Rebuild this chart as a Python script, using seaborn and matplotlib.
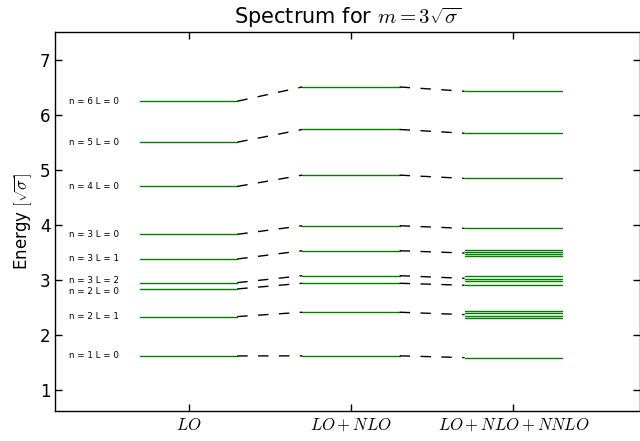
import numpy as np
import pandas as pd
import matplotlib
matplotlib.use("Agg")
import matplotlib.pyplot as plt
import seaborn as sns

# states, ordered by LO energy
states = ["n = 1 L = 0", "n = 2 L = 1", "n = 2 L = 0", "n = 3 L = 2", "n = 3 L = 1",
          "n = 3 L = 0", "n = 4 L = 0", "n = 5 L = 0", "n = 6 L = 0"]
orders = ["$LO$", "$LO+NLO$", "$LO+NLO+NNLO$"]

# energies in units of sqrt(sigma)
lo = [1.62, 2.335, 2.837, 2.951, 3.381, 3.829, 4.699, 5.502, 6.246]
nlo = [1.622, 2.414, 2.940, 3.078, 3.531, 3.985, 4.904, 5.733, 6.505]
# at NNLO some levels split
nnlo = [
    [1.59],
    [2.438, 2.393, 2.347, 2.305],
    [2.904],
    [3.073, 3.025, 2.99],
    [3.544, 3.507, 3.471, 3.435],
    [3.937],
    [4.844],
    [5.665],
    [6.427],
]

half = 0.3  # half width of a level line

# level segments
lev_rows = []
seg = 0
for k, vals in enumerate([[[v] for v in lo], [[v] for v in nlo], nnlo]):
    xc = k + 1
    for group in vals:
        for v in group:
            lev_rows.append((seg, xc - half, v))
            lev_rows.append((seg, xc + half, v))
            seg += 1
levels = pd.DataFrame(lev_rows, columns=["seg", "x", "E"])

# dashed connectors between orders
link_rows = []
seg = 0
stage = [lo, nlo, [np.mean(g) for g in nnlo]]
for k in range(2):
    for a, b in zip(stage[k], stage[k + 1]):
        link_rows.append((seg, k + 1 + half, a))
        link_rows.append((seg, k + 2 - half, b))
        seg += 1
links = pd.DataFrame(link_rows, columns=["seg", "x", "E"])

sns.set_style("ticks")
plt.rcParams["font.family"] = ["DejaVu Sans"]
plt.rcParams["mathtext.fontset"] = "cm"
plt.rcParams["axes.edgecolor"] = "black"
plt.rcParams["axes.linewidth"] = 1.0
plt.rcParams["text.color"] = "black"
plt.rcParams["axes.labelcolor"] = "black"
plt.rcParams["xtick.color"] = "black"
plt.rcParams["ytick.color"] = "black"

fig, ax = plt.subplots(figsize=(6.4, 4.41), dpi=100)
fig.subplots_adjust(left=0.0866, right=1.0, bottom=0.068, top=0.927)

sns.lineplot(data=levels, x="x", y="E", units="seg", estimator=None, sort=False,
             color=(0, 0.5, 0), lw=1, ax=ax)
sns.lineplot(data=links, x="x", y="E", units="seg", estimator=None, sort=False,
             color="black", lw=1, linestyle=(0, (7.5, 7.5)), ax=ax)

# two labels sit very close; nudge them apart a little
nudge = {"n = 3 L = 2": 1.6, "n = 2 L = 0": -1.6}
for name, v in zip(states, lo):
    ax.annotate(name, (0.265, v), xytext=(0, nudge.get(name, 0)),
                textcoords="offset points", fontsize=6.3, va="center", ha="left")

ax.set_xlim(0.18, 3.78)
ax.set_ylim(0.62, 7.5)
ax.set_xticks([1, 2, 3])
ax.set_xticklabels(orders, fontsize=12.5)
ax.set_yticks(range(1, 8))
ax.tick_params(direction="in", top=True, right=True, length=5, width=1,
               labelsize=12, color="black")
ax.set_xlabel("")
ax.set_ylabel(r"Energy $[\sqrt{\sigma}]$", fontsize=12)
ax.set_title(r"Spectrum for $m=3\sqrt{\sigma}$", fontsize=15)

fig.savefig("out.png", dpi=100)
